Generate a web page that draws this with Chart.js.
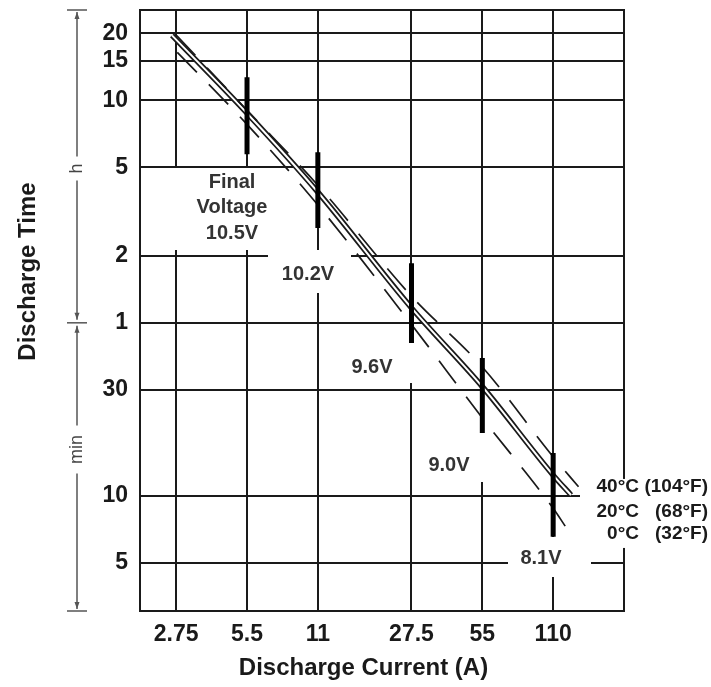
<!DOCTYPE html>
<html>
<head>
<meta charset="utf-8">
<script src="https://cdn.jsdelivr.net/npm/chart.js@4.4.1/dist/chart.umd.min.js"></script>
<style>
  body { margin: 0; background: #fff; }
  canvas { display: block; }
</style>
</head>
<body>
<canvas id="dischargeChart" width="711" height="687"></canvas>
<script>
// ticks: current in A, time in minutes (printed as h above 1 h, min below)
const currentTicks = [2.75, 5.5, 11, 27.5, 55, 110];
const timeTicks = [1200, 900, 600, 300, 120, 60, 30, 10, 5];
const timeTickLabels = ['20', '15', '10', '5', '2', '1', '30', '10', '5'];

// discharge curves, current (A) -> time (min)
const current40 = [2.75, 5.5, 11, 27.5, 55, 110, 141];
const time40 = [1180, 541, 249, 79, 38, 15.0, 11.0];
const current20 = [2.64, 5.5, 11, 27.5, 55, 110, 131];
const time20 = [1175, 525, 232, 70, 31, 12.4, 10.1];
const current0 = [2.78, 5.5, 11, 27.5, 55, 110, 125];
const time0 = [986, 468, 203, 59, 22.4, 8.8, 7.2];

const tempLabels = ['40°C', '20°C', '0°C'];
const tempLabelsF = ['(104°F)', '(68°F)', '(32°F)'];

// final voltage bars
const finalVoltages = ['10.5V', '10.2V', '9.6V', '9.0V', '8.1V'];
const barCurrent = [5.5, 11, 27.5, 55, 110];
const barTop = [761, 351, 111, 41.7, 15.6];
const barBottom = [343, 160, 48.7, 19.2, 6.55];

const INK = '#1a1a1a';
const FONT = '"Liberation Sans", Arial, sans-serif';
Chart.defaults.font.family = FONT;

function pts(xs, ys) {
  return xs.map((x, i) => ({ x: x, y: ys[i] }));
}

const curveStyle = { pointRadius: 0, fill: false, cubicInterpolationMode: 'monotone' };

const datasets = [
  Object.assign({ label: tempLabels[0], data: pts(current40, time40), borderColor: INK, borderWidth: 1.7, borderDash: [28, 17], order: 1 }, curveStyle),
  Object.assign({ label: tempLabels[1], data: pts(current20, time20), borderColor: INK, borderWidth: 5.5, order: 3 }, curveStyle),
  // white core makes the 20°C curve a double line
  Object.assign({ label: tempLabels[1], data: pts(current20, time20), borderColor: '#fff', borderWidth: 2, order: 2 }, curveStyle),
  Object.assign({ label: tempLabels[2], data: pts(current0, time0), borderColor: INK, borderWidth: 1.7, borderDash: [28, 17], order: 1 }, curveStyle)
];

barCurrent.forEach((c, i) => {
  datasets.push({
    label: finalVoltages[i],
    data: [{ x: c, y: barTop[i] }, { x: c, y: barBottom[i] }],
    borderColor: '#000',
    borderWidth: 5,
    pointRadius: 0,
    order: 0
  });
});

// label placement next to each bar: text offset and white box (left, top, right, bottom) from bar foot
const voltLayout = [
  { dx: -15, dy: 28, pre: ['Final', 'Voltage'], box: [-74, 14, 31, 96] },
  { dx: -10, dy: 46, pre: [], box: [-50, 22, 33, 65] },
  { dx: -39, dy: 24, pre: [], box: [-70, 0, 6, 40] },
  { dx: -33, dy: 32, pre: [], box: [-62, 0, 6, 49] },
  { dx: -12, dy: 21, pre: [], box: [-45, 0, 38, 40] }
];

const decorations = {
  id: 'decorations',
  beforeDraw(chart) {
    const ctx = chart.ctx;
    ctx.save();
    ctx.fillStyle = '#fff';
    ctx.fillRect(0, 0, chart.width, chart.height);
    ctx.restore();
  },
  beforeDatasetsDraw(chart) {
    const { ctx, chartArea: a, scales: { x, y } } = chart;
    ctx.save();
    ctx.strokeStyle = INK;
    ctx.lineWidth = 2;
    ctx.strokeRect(a.left, a.top, a.right - a.left, a.bottom - a.top);

    ctx.textAlign = 'center';
    ctx.textBaseline = 'middle';
    ctx.font = 'bold 20px ' + FONT;
    barCurrent.forEach((c, i) => {
      const bx = Math.round(x.getPixelForValue(c));
      const by = Math.round(y.getPixelForValue(barBottom[i]));
      const L = voltLayout[i];
      ctx.fillStyle = '#fff';
      ctx.fillRect(bx + L.box[0], by + L.box[1], L.box[2] - L.box[0], L.box[3] - L.box[1]);
      ctx.fillStyle = '#333';
      const lines = L.pre.concat([finalVoltages[i]]);
      lines.forEach((t, k) => ctx.fillText(t, bx + L.dx, by + L.dy + k * 25.5));
    });

    // temperature legend at the curve ends
    const ly = y.getPixelForValue(10);
    ctx.fillStyle = '#fff';
    ctx.fillRect(a.right - 44, ly - 17, 131, 69);
    ctx.fillStyle = INK;
    ctx.font = 'bold 19px ' + FONT;
    ctx.textAlign = 'right';
    const rowDy = [-9, 16, 38];
    tempLabels.forEach((t, i) => {
      ctx.fillText(t, a.right + 15, ly + rowDy[i]);
      ctx.fillText(tempLabelsF[i], a.right + 84, ly + rowDy[i]);
    });
    ctx.restore();
  },
  afterDraw(chart) {
    const { ctx, chartArea: a, scales: { y } } = chart;
    ctx.save();
    // h / min bracket
    const bx = 77;
    const yTop = a.top, yMid = y.getPixelForValue(60), yBot = a.bottom;
    ctx.strokeStyle = '#555';
    ctx.fillStyle = '#555';
    ctx.lineWidth = 1.5;
    function line(x1, y1, x2, y2) {
      ctx.beginPath(); ctx.moveTo(x1, y1); ctx.lineTo(x2, y2); ctx.stroke();
    }
    function arrow(yt, dir) {
      ctx.beginPath();
      ctx.moveTo(bx, yt);
      ctx.lineTo(bx - 2.5, yt - dir * 7);
      ctx.lineTo(bx + 2.5, yt - dir * 7);
      ctx.closePath();
      ctx.fill();
    }
    [yTop, yMid, yBot].forEach(t => line(bx - 10, t, bx + 10, t));
    const hy = (yTop + yMid) / 2 + 2;
    const my = yMid + (yBot - yMid) * 0.44;
    line(bx, yTop + 2, bx, hy - 12);
    line(bx, hy + 12, bx, yMid - 3);
    line(bx, yMid + 3, bx, my - 24);
    line(bx, my + 24, bx, yBot - 2);
    arrow(yTop + 2, -1);
    arrow(yMid - 3, 1);
    arrow(yMid + 3, -1);
    arrow(yBot - 2, 1);

    ctx.font = '18px ' + FONT;
    ctx.fillStyle = '#444';
    ctx.textAlign = 'center';
    ctx.textBaseline = 'middle';
    [['h', hy], ['min', my]].forEach(([t, ty]) => {
      ctx.save();
      ctx.translate(bx, ty);
      ctx.rotate(-Math.PI / 2);
      ctx.fillText(t, 0, 0);
      ctx.restore();
    });

    // axis titles
    ctx.fillStyle = INK;
    ctx.font = 'bold 24px ' + FONT;
    ctx.save();
    ctx.translate(28, (a.top + a.bottom) / 2 - 39);
    ctx.rotate(-Math.PI / 2);
    ctx.fillText('Discharge Time', 0, 0);
    ctx.restore();
    ctx.fillText('Discharge Current (A)', chart.width / 2 + 8, 668);
    ctx.restore();
  }
};

new Chart(document.getElementById('dischargeChart'), {
  type: 'line',
  data: { datasets: datasets },
  options: {
    responsive: false,
    animation: false,
    layout: { padding: { left: 0, top: 10, right: 87, bottom: 0 } },
    plugins: { legend: { display: false }, tooltip: { enabled: false } },
    scales: {
      x: {
        type: 'logarithmic',
        min: 1.93,
        max: 220,
        afterBuildTicks: s => { s.ticks = currentTicks.map(v => ({ value: v })); },
        afterFit: s => { s.height = 76; s.paddingLeft = 0; s.paddingRight = 0; },
        grid: { color: INK, lineWidth: 2, drawTicks: false },
        border: { display: false },
        ticks: {
          autoSkip: false,
          maxRotation: 0,
          padding: 10,
          color: INK,
          font: { size: 23, weight: 'bold' },
          callback: v => String(v)
        }
      },
      y: {
        type: 'logarithmic',
        min: 3.04,
        max: 1528,
        afterBuildTicks: s => { s.ticks = timeTicks.map(v => ({ value: v })); },
        afterFit: s => { s.width = 140; s.paddingTop = 0; s.paddingBottom = 0; },
        grid: { color: INK, lineWidth: 2, drawTicks: false },
        border: { display: false },
        ticks: {
          autoSkip: false,
          padding: 12,
          color: INK,
          font: { size: 23, weight: 'bold' },
          callback: v => timeTickLabels[timeTicks.indexOf(v)]
        }
      }
    }
  },
  plugins: [decorations]
});
</script>
</body>
</html>
